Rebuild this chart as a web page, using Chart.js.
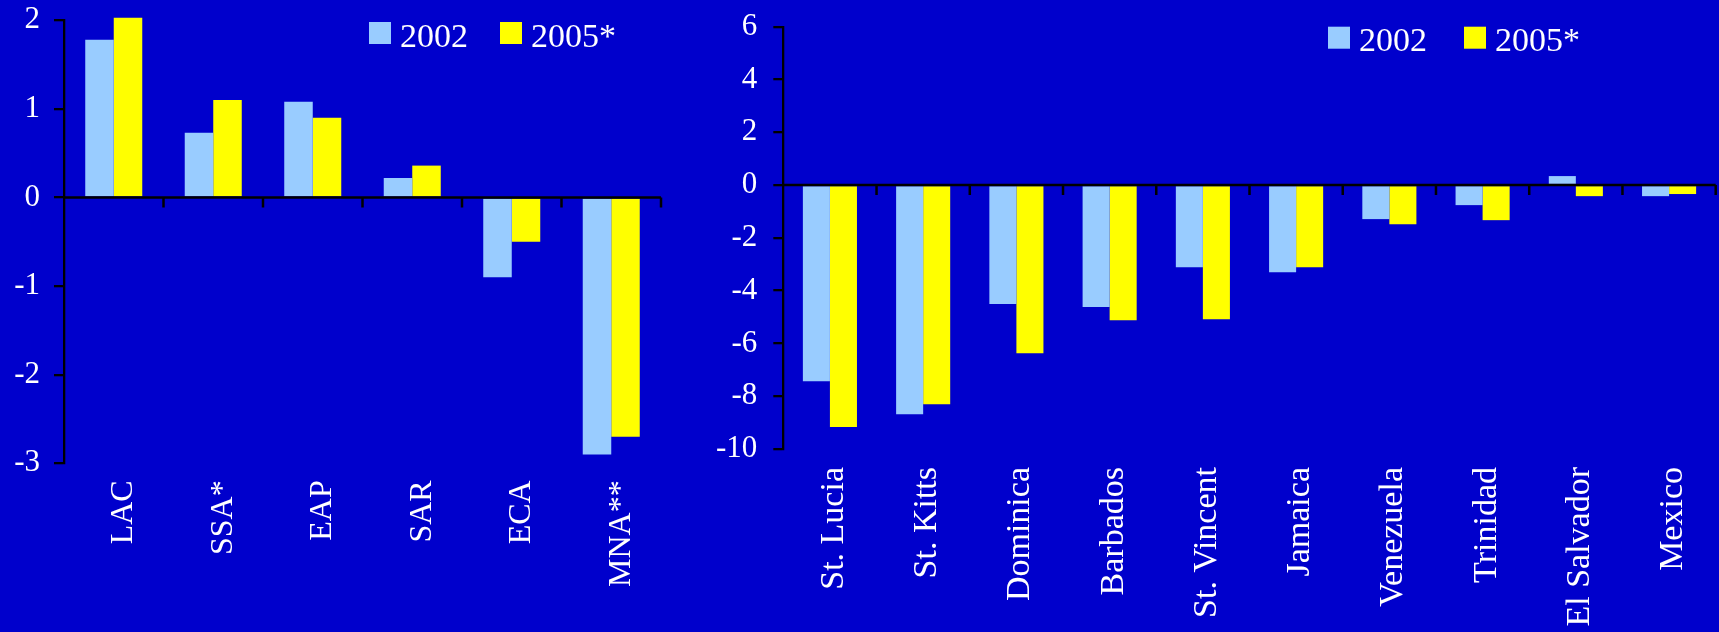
<!DOCTYPE html>
<html>
<head>
<meta charset="utf-8">
<script src="https://cdn.jsdelivr.net/npm/chart.js@4.4.1/dist/chart.umd.min.js"></script>
<style>
  html, body { margin: 0; padding: 0; background: #0000CC; width: 1719px; height: 632px; overflow: hidden; }
  canvas { position: absolute; top: 0; }
  #regions { left: 0; }
  #countries { left: 690px; }
</style>
</head>
<body>
<canvas id="regions" width="690" height="632"></canvas>
<canvas id="countries" width="1029" height="632"></canvas>
<script>
// Series names
const seriesNames = ['2002', '2005*'];

// Regions
const regionLabels = ['LAC', 'SSA*', 'EAP', 'SAR', 'ECA', 'MNA**'];
const region2002 = [1.78, 0.73, 1.08, 0.22, -0.90, -2.90];
const region2005 = [2.03, 1.10, 0.90, 0.36, -0.50, -2.70];

// Countries
const countryLabels = ['St. Lucia', 'St. Kitts', 'Dominica', 'Barbados', 'St. Vincent',
                       'Jamaica', 'Venezuela', 'Trinidad', 'El Salvador', 'Mexico'];
const country2002 = [-7.43, -8.68, -4.51, -4.62, -3.11, -3.30, -1.29, -0.76, 0.34, -0.42];
const country2005 = [-9.17, -8.30, -6.37, -5.12, -5.08, -3.11, -1.48, -1.33, -0.42, -0.34];

const serif = "'Liberation Serif', 'Times New Roman', Times, serif";
const colors = ['#99CCFF', '#FFFF00'];

// Axis line at value 0 with tick marks between categories
const zeroAxis = {
  id: 'zeroAxis',
  afterDatasetsDraw(chart) {
    const { ctx, chartArea: a, scales: { x, y } } = chart;
    const y0 = y.getPixelForValue(0);
    ctx.save();
    ctx.strokeStyle = '#000';
    ctx.lineWidth = 2.5;
    ctx.beginPath();
    ctx.moveTo(a.left, y0);
    ctx.lineTo(a.right, y0);
    for (let i = 0; i < chart.data.labels.length; i++) {
      const bx = x.getPixelForValue(i + 0.5);
      ctx.moveTo(bx, y0);
      ctx.lineTo(bx, y0 + 10);
    }
    ctx.stroke();
    ctx.restore();
  }
};

// Square-swatch legend placed inside the plot
const boxLegend = {
  id: 'boxLegend',
  afterDraw(chart, args, opts) {
    const ctx = chart.ctx;
    ctx.save();
    ctx.font = opts.size + 'px ' + serif;
    ctx.textBaseline = 'alphabetic';
    ctx.textAlign = 'left';
    chart.data.datasets.forEach((ds, i) => {
      const bx = opts.x[i];
      ctx.fillStyle = ds.backgroundColor;
      ctx.fillRect(bx, opts.top, 22, 22);
      ctx.fillStyle = '#FFFFFF';
      ctx.fillText(ds.label, bx + opts.gap, opts.baseline);
    });
    ctx.restore();
  }
};

function makeChart(id, cfg) {
  return new Chart(document.getElementById(id), {
    type: 'bar',
    data: {
      labels: cfg.labels,
      datasets: cfg.series.map((data, i) => ({
        label: seriesNames[i],
        data: data,
        backgroundColor: colors[i],
        borderWidth: 0,
        categoryPercentage: cfg.catPct,
        barPercentage: 1,
        clip: false
      }))
    },
    options: {
      responsive: false,
      animation: false,
      layout: { padding: { top: cfg.top, right: cfg.right, left: 0, bottom: 0 } },
      plugins: {
        legend: { display: false },
        tooltip: { enabled: false },
        boxLegend: cfg.legend
      },
      scales: {
        x: {
          grid: { display: false, drawTicks: false },
          border: { display: false },
          ticks: {
            color: '#FFFFFF',
            font: { family: serif, size: cfg.xFont },
            maxRotation: 90,
            minRotation: 90,
            autoSkip: false,
            padding: cfg.xPad,
            labelOffset: cfg.xShift
          },
          afterFit(s) {
            s.height = cfg.xHeight;
            s.paddingLeft = 0;
            s.paddingRight = 0;
          }
        },
        y: {
          min: cfg.min,
          max: cfg.max,
          ticks: {
            stepSize: cfg.step,
            color: '#FFFFFF',
            font: { family: serif, size: 31 },
            padding: cfg.yPad
          },
          grid: { drawOnChartArea: false, drawTicks: true, tickLength: 10, color: '#000', lineWidth: 2.3 },
          border: { display: true, color: '#000', width: 2.3 },
          afterFit(s) {
            s.width = cfg.yWidth;
            s.paddingTop = 0;
            s.paddingBottom = 0;
          }
        }
      }
    },
    plugins: [zeroAxis, boxLegend]
  });
}

makeChart('regions', {
  labels: regionLabels,
  series: [region2002, region2005],
  min: -3, max: 2, step: 1,
  catPct: 0.573,
  top: 20.3, right: 29,
  yWidth: 64, yPad: 14,
  xHeight: 168.7, xPad: 17, xFont: 32, xShift: 10,
  legend: { x: [369, 500], top: 22, gap: 31, baseline: 46.7, size: 34 }
});

makeChart('countries', {
  labels: countryLabels,
  series: [country2002, country2005],
  min: -10, max: 6, step: 2,
  catPct: 0.58,
  top: 26.7, right: 3.3,
  yWidth: 93.3, yPad: 16,
  xHeight: 183, xPad: 18, xFont: 34, xShift: 4,
  legend: { x: [638, 774], top: 26.7, gap: 31, baseline: 51, size: 34 }
});
</script>
</body>
</html>
